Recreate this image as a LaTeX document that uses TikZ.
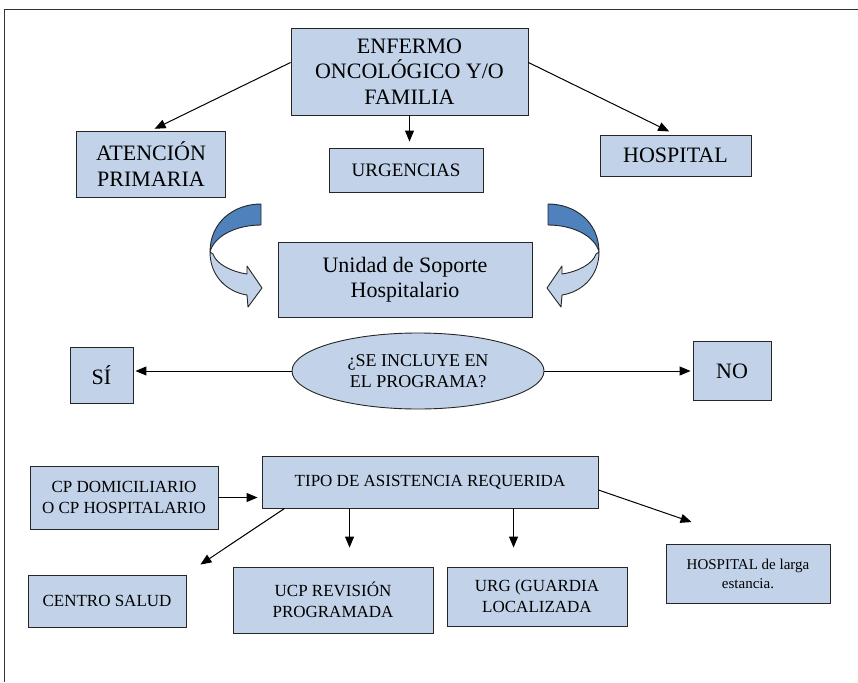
\documentclass[tikz,border=0pt]{standalone}
\usepackage{fontspec}
\setmainfont{Liberation Serif}
\usetikzlibrary{positioning,arrows.meta,shapes.geometric}
\definecolor{boxblue}{RGB}{194,211,233}
\definecolor{darkblue}{RGB}{79,129,189}

\newcommand{\bentarrow}{%
\filldraw[bentline, fill=darkblue] (261,204) .. controls (234,204) and (210,222) .. (210,252) .. controls (214,236) and (236,225) .. (261,225) -- cycle;
\filldraw[bentline, fill=boxblue] (210,252) .. controls (210,276) and (227,292) .. (247,295) -- (248,307) -- (262,288) -- (247,266) -- (247,274) .. controls (232,272) and (216,264) .. (213,254) -- cycle;
}

\begin{document}
\begin{tikzpicture}[x=1pt,y=-1pt,
  box/.style={draw=black!85, fill=boxblue, line width=0.9pt, inner sep=0pt, align=center},
  big/.style={font=\fontsize{22}{25.5}\selectfont},
  small/.style={font=\fontsize{17}{21}\selectfont},
  arr/.style={-{Triangle[length=11pt,width=9pt]}, line width=1pt, black},
  bentline/.style={draw=black!85, line width=0.9pt, line join=round}]
\useasboundingbox (0,0) rectangle (858,682);
\draw [line width=1pt, black!80] (4,682) -- (4,10) -- (858,10);

\node [box,big,minimum width=237pt,minimum height=87pt] (fam) at (409.5,71.5) {ENFERMO\\ONCOLÓGICO Y/O\\FAMILIA};
\node [box,big,minimum width=149pt,minimum height=66pt] (aten) at (151,164) {ATENCIÓN\\PRIMARIA};
\node [box,font=\fontsize{19}{23}\selectfont,minimum width=154pt,minimum height=44pt] (urg) at (406,170) {URGENCIAS};
\node [box,big,minimum width=151pt,minimum height=41pt] (hosp) at (675.5,155.5) {HOSPITAL};
\node [box,big,minimum width=254pt,minimum height=75pt] (usph) at (405,279.5) {Unidad de Soporte\\Hospitalario};

\begin{scope}
\bentarrow
\end{scope}
\begin{scope}[shift={(809,0)},xscale=-1]
\bentarrow
\end{scope}

\node [box,ellipse,font=\fontsize{18}{21}\selectfont,minimum width=252pt,minimum height=76pt] (prog) at (418,371) {¿SE INCLUYE EN\\EL PROGRAMA?};
\node [box,big,minimum width=63pt,minimum height=56pt] (si) at (101.5,375) {SÍ};
\node [box,big,minimum width=78pt,minimum height=59pt] (no) at (732,371) {NO};

\node [box,small,minimum width=188pt,minimum height=63pt] (cp) at (124,497.5) {CP DOMICILIARIO\\O CP HOSPITALARIO};
\node [box,small,minimum width=336pt,minimum height=52pt] (tipo) at (430,482) {TIPO DE ASISTENCIA REQUERIDA};
\node [box,small,minimum width=158pt,minimum height=52pt] (cs) at (107,601) {CENTRO SALUD};
\node [box,small,minimum width=200pt,minimum height=66pt] (ucp) at (333,600) {UCP REVISIÓN\\PROGRAMADA};
\node [box,small,minimum width=180pt,minimum height=59pt] (urgl) at (537,596.5) {URG (GUARDIA\\LOCALIZADA};
\node [box,font=\fontsize{15}{19}\selectfont,minimum width=164pt,minimum height=59pt] (hl) at (748,574) {HOSPITAL de larga\\estancia.};

\draw [arr, shorten >=4pt] ([yshift=9pt]fam.west) -- (aten.north);
\draw [arr, shorten >=6pt] (fam.south) -- (fam.south |- urg.north);
\draw [arr, shorten >=7pt] ([yshift=9pt]fam.east) -- (hosp.north);
\draw [arr, shorten >=2pt] (prog.west) -- (prog.west -| si.east);
\draw [arr, shorten >=2pt] (prog.east) -- (prog.east -| no.west);
\draw [arr, shorten >=4pt] (cp.east) -- (cp.east -| tipo.west);
\draw [arr] ([xshift=23pt]tipo.south west) -- ([xshift=14pt,yshift=10pt]cs.north east);
\draw [arr, shorten >=19pt] ([xshift=88pt]tipo.south west) -- ([xshift=88pt]tipo.south west |- ucp.north);
\draw [arr, shorten >=19pt] ([xshift=252pt]tipo.south west) -- ([xshift=252pt]tipo.south west |- urgl.north);
\draw [arr] ([yshift=-8pt]tipo.east) -- ([xshift=26pt,yshift=22pt]hl.north west);
\end{tikzpicture}
\end{document}
